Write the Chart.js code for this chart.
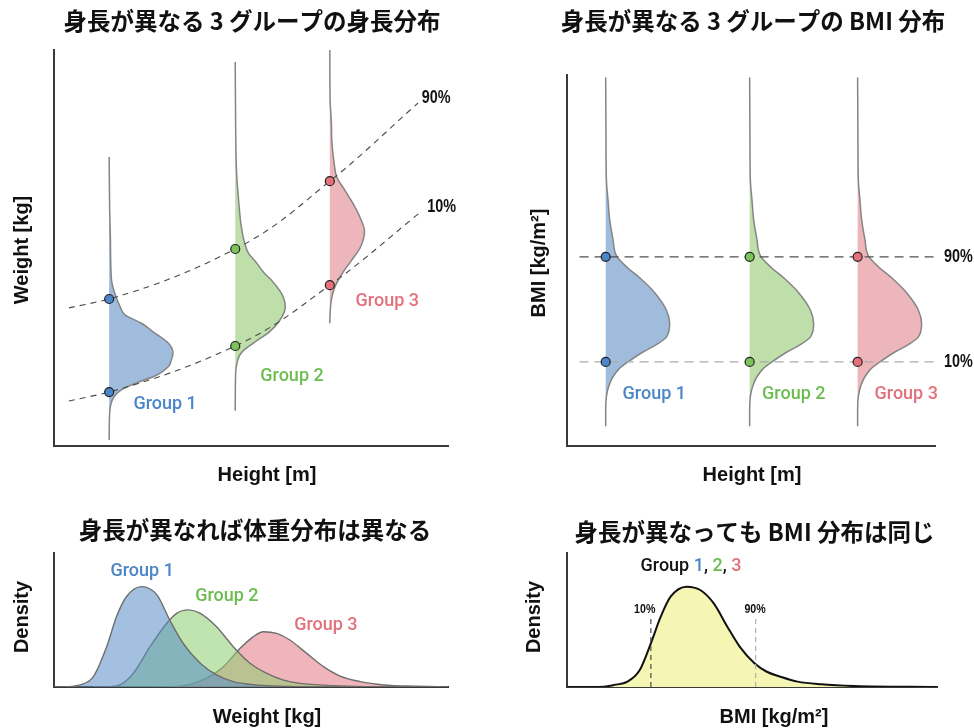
<!DOCTYPE html>
<html>
<head>
<meta charset="utf-8">
<script src="https://cdn.jsdelivr.net/npm/chart.js@4.4.1/dist/chart.umd.min.js"></script>
<style>
  html, body { margin: 0; padding: 0; background: #fff; }
  body { width: 974px; height: 728px; position: relative; overflow: hidden; }
  canvas { position: absolute; }
</style>
</head>
<body>
<canvas id="c1" width="487" height="500" style="left:0;top:0"></canvas>
<canvas id="c2" width="487" height="500" style="left:487px;top:0"></canvas>
<canvas id="c3" width="487" height="228" style="left:0;top:500px"></canvas>
<canvas id="c4" width="487" height="228" style="left:487px;top:500px"></canvas>
<script>
// ---------- data ----------
const GROUPS = ['Group 1', 'Group 2', 'Group 3'];
const GROUP_HEIGHTS = [1.52, 1.68, 1.80];            // m

// weight distribution of each group (weight kg, density per kg)
const G1_WEIGHT = [31.2, 35.3, 38.3, 39.9, 41.3, 42.7, 44.3, 46.0, 47.4, 48.8, 50.8, 52.8, 54.8, 56.5, 58.1, 60.9, 63.5, 71.6, 78.0, 88.4];
const G1_DENS   = [0, 0.0003, 0.002, 0.006, 0.015, 0.034, 0.060, 0.075, 0.079, 0.081, 0.075, 0.058, 0.041, 0.020, 0.014, 0.007, 0.003, 0.0016, 0.0006, 0];
const G2_WEIGHT = [37.1, 43.3, 46.0, 48.8, 50.8, 53.0, 55.5, 58.1, 60.1, 61.5, 63.5, 64.9, 67.0, 69.0, 71.6, 75.1, 78.3, 85.2, 95.0, 107.6];
const G2_DENS   = [0, 0.0003, 0.0013, 0.0076, 0.023, 0.043, 0.057, 0.0635, 0.061, 0.056, 0.046, 0.037, 0.027, 0.0165, 0.011, 0.007, 0.005, 0.0017, 0.0005, 0];
const G3_WEIGHT = [54.8, 56.9, 59.5, 62.1, 64.9, 67.6, 70.2, 73.4, 76.3, 79.1, 81.7, 84.3, 87.8, 91.8, 95.3, 99.9, 110.0];
const G3_DENS   = [0, 0.0004, 0.002, 0.0063, 0.016, 0.028, 0.039, 0.044, 0.038, 0.029, 0.019, 0.009, 0.005, 0.0025, 0.002, 0.0004, 0];

// 90% / 10% weight percentile curves across height
const P90_HEIGHT = [1.469, 1.52, 1.68, 1.80, 1.912];
const P90_WEIGHT = [57.9, 59.7, 69.8, 83.5, 99.3];
const P10_HEIGHT = [1.469, 1.52, 1.68, 1.80, 1.917];
const P10_WEIGHT = [39.1, 40.9, 50.2, 62.5, 77.5];
const P90_AT_GROUP = [59.7, 69.8, 83.5];
const P10_AT_GROUP = [40.9, 50.2, 62.5];

// BMI distribution (shared by all groups)
const BMI_GRID = [11.6, 12.7, 14.0, 14.9, 15.6, 16.3, 16.8, 17.6, 18.2, 18.8, 19.9, 21.0, 22.4, 23.6, 24.5, 25.4, 26.7, 28.3, 29.9, 31.5, 34.7, 39.8];
const BMI_DENS = [0, 0, 0.0013, 0.0061, 0.0135, 0.0259, 0.0413, 0.0691, 0.0939, 0.1124, 0.1185, 0.1124, 0.0907, 0.063, 0.0383, 0.0198, 0.0135, 0.0074, 0.0043, 0.0013, 0.0006, 0];
const BMI_P90 = 25.3;
const BMI_P10 = 16.8;
const BMI_LINE_HEIGHTS = [1.491, 1.886];

// weight densities (bottom-left)
const W1 = [30, 32.6, 35.3, 38.0, 40.7, 42.7, 44.7, 47.8, 50.9, 53.5, 56.2, 59.7, 63.0, 66.4, 69.8, 73.2, 79.9, 90];
const D1 = [0, 0.0002, 0.0017, 0.0085, 0.0331, 0.0578, 0.0741, 0.0824, 0.0756, 0.055, 0.0359, 0.0195, 0.0099, 0.0044, 0.0022, 0.0011, 0.0003, 0];
const W2 = [38, 41.4, 43.4, 46.1, 49.5, 52.9, 54.9, 57.3, 59.7, 63.0, 66.4, 69.8, 73.2, 76.6, 79.9, 86.7, 93.5, 105];
const D2 = [0, 0.0003, 0.0017, 0.0112, 0.0331, 0.0523, 0.0605, 0.0633, 0.0605, 0.0495, 0.0331, 0.0195, 0.0112, 0.0057, 0.003, 0.0011, 0.0003, 0];
const W3 = [50, 54.2, 57.6, 61.0, 64.4, 67.8, 70.5, 72.5, 75.2, 77.9, 81.3, 84.7, 88.1, 92.2, 96.9, 103.6, 110];
const D3 = [0, 0.0003, 0.0022, 0.0072, 0.0167, 0.0318, 0.0414, 0.0454, 0.044, 0.0386, 0.0276, 0.0167, 0.009, 0.0044, 0.0017, 0.0006, 0];

// BMI density (bottom-right)
const B_ALL = [10, 13.0, 13.8, 14.9, 15.9, 16.8, 17.6, 18.4, 19.7, 20.8, 21.9, 23.0, 24.0, 25.2, 26.2, 27.3, 28.7, 30.6, 33.3, 40];
const D_ALL = [0, 0.0004, 0.0024, 0.0064, 0.0203, 0.0522, 0.084, 0.1078, 0.1198, 0.1158, 0.0998, 0.072, 0.0482, 0.0283, 0.0182, 0.0123, 0.0064, 0.0032, 0.0011, 0];
const PCT_LINE_TOP = 0.086;

// ---------- styles ----------
const TEXT_COL = ['#4a86c8', '#6cbd50', '#e3707b'];
const MARK_COL = ['#4a86c8', '#7dc35b', '#e8707a'];
const FILL_SOLID = ['#a0bcdd', '#bedfa9', '#ecb6ba'];
const FILL_ALPHA = ['rgba(88,140,200,0.55)', 'rgba(140,205,110,0.55)', 'rgba(225,120,130,0.55)'];
const TITLE_FONT = '700 23.5px "Noto Sans CJK JP", sans-serif';
const AXIS_FONT = 'bold 20px "Liberation Sans", Arial, sans-serif';
const GROUP_FONT = '500 18px Roboto, "Liberation Sans", sans-serif';
const PCT_FONT = 'bold 18px "Liberation Sans", Arial, sans-serif';
const PCT_FONT_SMALL = 'bold 12.5px "Liberation Sans", Arial, sans-serif';
const VIOLIN_W_WEIGHT = 1.0;   // m of width per unit weight density
const VIOLIN_W_BMI = 0.6;      // m of width per unit BMI density

const zip = (xs, ys) => xs.map((x, i) => ({x, y: ys[i]}));
const violin = (base, vals, dens, k) => vals.map((v, i) => ({x: base + dens[i] * k, y: v}));

function axes(xmin, xmax, ymin, ymax) {
  const ax = (min, max) => ({
    type: 'linear', min, max,
    grid: {display: false, drawTicks: false},
    border: {display: true, color: '#3a3a3a', width: 2},
    ticks: {display: false}
  });
  return {x: ax(xmin, xmax), y: ax(ymin, ymax)};
}

// draws captions; items anchored either in canvas px or in data units
function textPlugin(items) {
  return {
    id: 'panelText',
    afterDraw(chart) {
      const ctx = chart.ctx;
      const sx = chart.scales.x, sy = chart.scales.y;
      items.forEach(it => {
        ctx.save();
        ctx.font = it.font;
        ctx.textBaseline = 'middle';
        ctx.textAlign = 'left';
        const px = it.data ? sx.getPixelForValue(it.data[0]) : it.px[0];
        const py = it.data ? sy.getPixelForValue(it.data[1]) : it.px[1];
        ctx.translate(px, py);
        if (it.rotate) ctx.rotate(it.rotate);
        if (it.narrow) ctx.scale(it.narrow, 1);
        const parts = it.parts || [{text: it.text, color: it.color || '#111'}];
        const total = parts.reduce((s, p) => s + ctx.measureText(p.text).width, 0);
        let x = -total / 2;
        parts.forEach(p => {
          ctx.fillStyle = p.color;
          ctx.fillText(p.text, x, 0);
          x += ctx.measureText(p.text).width;
        });
        ctx.restore();
      });
    }
  };
}

const baseOpts = {
  responsive: false,
  animation: false,
  events: [],
  plugins: {legend: {display: false}, tooltip: {enabled: false}, title: {display: false}},
  elements: {point: {radius: 0}}
};

function markerSet(xs, ys) {
  return {
    data: zip(xs, ys), showLine: false,
    pointRadius: 4.5, pointBorderWidth: 1.2, pointBorderColor: '#222',
    pointBackgroundColor: MARK_COL, backgroundColor: MARK_COL
  };
}

// ---------- panel 1: weight by height ----------
const violinSets1 = [[G1_WEIGHT, G1_DENS], [G2_WEIGHT, G2_DENS], [G3_WEIGHT, G3_DENS]].map(([w, d], g) => ({
  data: violin(GROUP_HEIGHTS[g], w, d, VIOLIN_W_WEIGHT),
  borderColor: '#858585', borderWidth: 1.5,
  backgroundColor: FILL_SOLID[g],
  fill: {value: GROUP_HEIGHTS[g]},
  cubicInterpolationMode: 'monotone'
}));
const pctCurve = (xs, ys) => ({
  data: zip(xs, ys), borderColor: '#4a4a4a', borderWidth: 1.1, borderDash: [6, 5],
  fill: false, cubicInterpolationMode: 'monotone'
});

new Chart(document.getElementById('c1'), {
  type: 'line',
  data: {datasets: [
    markerSet(GROUP_HEIGHTS, P90_AT_GROUP),
    markerSet(GROUP_HEIGHTS, P10_AT_GROUP),
    pctCurve(P90_HEIGHT, P90_WEIGHT),
    pctCurve(P10_HEIGHT, P10_WEIGHT),
    ...violinSets1
  ]},
  options: {
    ...baseOpts,
    indexAxis: 'y',
    layout: {autoPadding: false, padding: {left: 54, top: 50, right: 39, bottom: 54}},
    scales: axes(1.45, 1.95, 30, 110)
  },
  plugins: [textPlugin([
    {px: [252, 21], text: '身長が異なる 3 グループの身長分布', font: TITLE_FONT},
    {px: [22, 250], text: 'Weight [kg]', font: AXIS_FONT, rotate: -Math.PI / 2},
    {px: [267, 475], text: 'Height [m]', font: AXIS_FONT},
    {data: [1.591, 38.3], text: GROUPS[0], font: GROUP_FONT, color: TEXT_COL[0]},
    {data: [1.752, 44.1], text: GROUPS[1], font: GROUP_FONT, color: TEXT_COL[1]},
    {data: [1.873, 59.1], text: GROUPS[2], font: GROUP_FONT, color: TEXT_COL[2]},
    {data: [1.935, 100.3], text: '90%', font: PCT_FONT, narrow: 0.8},
    {data: [1.942, 78.3], text: '10%', font: PCT_FONT, narrow: 0.8}
  ])]
});

// ---------- panel 2: BMI by height ----------
const violinSets2 = GROUP_HEIGHTS.map((h, g) => ({
  data: violin(h, BMI_GRID, BMI_DENS, VIOLIN_W_BMI),
  borderColor: '#858585', borderWidth: 1.5,
  backgroundColor: FILL_SOLID[g],
  fill: {value: h},
  cubicInterpolationMode: 'monotone'
}));
const hLine = (v, col) => ({
  data: BMI_LINE_HEIGHTS.map(h => ({x: h, y: v})),
  borderColor: col, borderWidth: 1.3, borderDash: [9, 6], fill: false, tension: 0
});

new Chart(document.getElementById('c2'), {
  type: 'line',
  data: {datasets: [
    markerSet(GROUP_HEIGHTS, GROUP_HEIGHTS.map(() => BMI_P90)),
    markerSet(GROUP_HEIGHTS, GROUP_HEIGHTS.map(() => BMI_P10)),
    hLine(BMI_P90, '#505050'),
    hLine(BMI_P10, '#ababab'),
    ...violinSets2
  ]},
  options: {
    ...baseOpts,
    indexAxis: 'y',
    layout: {autoPadding: false, padding: {left: 80, top: 75, right: 39, bottom: 54}},
    scales: axes(1.477, 1.886, 10, 40)
  },
  plugins: [textPlugin([
    {px: [266, 21], text: '身長が異なる 3 グループの BMI 分布', font: TITLE_FONT},
    {px: [52, 263], text: 'BMI [kg/m²]', font: AXIS_FONT, rotate: -Math.PI / 2},
    {px: [265, 475], text: 'Height [m]', font: AXIS_FONT},
    {data: [1.574, 14.2], text: GROUPS[0], font: GROUP_FONT, color: TEXT_COL[0]},
    {data: [1.729, 14.2], text: GROUPS[1], font: GROUP_FONT, color: TEXT_COL[1]},
    {data: [1.854, 14.2], text: GROUPS[2], font: GROUP_FONT, color: TEXT_COL[2]},
    {data: [1.912, BMI_P90], text: '90%', font: PCT_FONT, narrow: 0.8},
    {data: [1.912, BMI_P10], text: '10%', font: PCT_FONT, narrow: 0.8}
  ])]
});

// ---------- panel 3: weight densities ----------
new Chart(document.getElementById('c3'), {
  type: 'line',
  data: {datasets: [[W1, D1], [W2, D2], [W3, D3]].map(([w, d], g) => ({
    data: zip(w, d),
    borderColor: '#6e6e6e', borderWidth: 1.4,
    backgroundColor: FILL_ALPHA[g], fill: 'origin',
    cubicInterpolationMode: 'monotone'
  }))},
  options: {
    ...baseOpts,
    layout: {autoPadding: false, padding: {left: 54, top: 53, right: 39, bottom: 41}},
    scales: axes(30, 110, 0, 0.11)
  },
  plugins: [textPlugin([
    {px: [255, 30], text: '身長が異なれば体重分布は異なる', font: TITLE_FONT},
    {px: [22, 117], text: 'Density', font: AXIS_FONT, rotate: -Math.PI / 2},
    {px: [267, 217], text: 'Weight [kg]', font: AXIS_FONT},
    {data: [47.9, 0.0952], text: GROUPS[0], font: GROUP_FONT, color: TEXT_COL[0]},
    {data: [65.1, 0.0747], text: GROUPS[1], font: GROUP_FONT, color: TEXT_COL[1]},
    {data: [85.2, 0.0501], text: GROUPS[2], font: GROUP_FONT, color: TEXT_COL[2]}
  ])]
});

// ---------- panel 4: BMI density ----------
const vLine = (v, col) => ({
  data: [{x: v, y: 0}, {x: v, y: PCT_LINE_TOP}],
  borderColor: col, borderWidth: 1.2, borderDash: [5, 4], fill: false, tension: 0
});
new Chart(document.getElementById('c4'), {
  type: 'line',
  data: {datasets: [
    vLine(BMI_P10, '#4a4a4a'),
    vLine(BMI_P90, '#b0b0b0'),
    {
      data: zip(B_ALL, D_ALL),
      borderColor: '#111', borderWidth: 2,
      backgroundColor: '#f6f6b4', fill: 'origin',
      cubicInterpolationMode: 'monotone'
    }
  ]},
  options: {
    ...baseOpts,
    layout: {autoPadding: false, padding: {left: 80, top: 53, right: 37, bottom: 41}},
    scales: axes(10, 40, 0, 0.16)
  },
  plugins: [textPlugin([
    {px: [267.5, 32], text: '身長が異なっても BMI 分布は同じ', font: TITLE_FONT},
    {px: [47, 117], text: 'Density', font: AXIS_FONT, rotate: -Math.PI / 2},
    {px: [287, 217], text: 'BMI [kg/m²]', font: AXIS_FONT},
    {data: [20.05, 0.1433], font: GROUP_FONT, parts: [
      {text: 'Group ', color: '#111'}, {text: '1', color: TEXT_COL[0]},
      {text: ', ', color: '#111'}, {text: '2', color: TEXT_COL[1]},
      {text: ', ', color: '#111'}, {text: '3', color: TEXT_COL[2]}
    ]},
    {data: [16.3, 0.092], text: '10%', font: PCT_FONT_SMALL, narrow: 0.85},
    {data: [25.25, 0.092], text: '90%', font: PCT_FONT_SMALL, narrow: 0.85}
  ])]
});
</script>
</body>
</html>
